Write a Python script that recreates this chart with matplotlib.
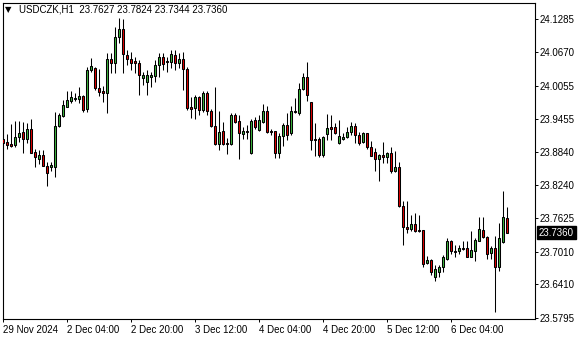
import matplotlib
matplotlib.use('Agg')
import matplotlib.pyplot as plt
import matplotlib.transforms as mtransforms

symbol = 'USDCZK,H1'

# H1 bars, 29 Nov 2024 12:00 .. 6 Dec 2024 19:00 (weekend skipped)
opens = [
    23.9079, 23.9024, 23.8987, 23.8969, 23.9116, 23.9208, 23.9079, 23.9263, 23.8840, 23.8712,
    23.8785, 23.8583, 23.8565, 23.8565, 23.9318, 23.9502, 23.9667, 23.9778, 23.9814, 23.9814,
    23.9870, 23.9631, 24.0347, 24.0384, 24.0017, 23.9961, 23.9925, 24.0550, 24.0476, 24.0954,
    24.1101, 24.0623, 24.0550, 24.0513, 24.0476, 24.0200, 24.0127, 24.0219, 24.0237, 24.0439,
    24.0586, 24.0513, 24.0494, 24.0623, 24.0476, 24.0550, 24.0366, 23.9667, 23.9649, 23.9851,
    23.9612, 23.9925, 23.9594, 23.9318, 23.8987, 23.9226, 23.9006, 23.8987, 23.9520, 23.9410,
    23.9171, 23.9226, 23.8822, 23.9428, 23.9245, 23.9392, 23.9594, 23.9226, 23.9226, 23.8822,
    23.9134, 23.9337, 23.9190, 23.9594, 23.9557, 23.9998, 24.0219, 23.9759, 23.9079, 23.9079,
    23.8785, 23.9171, 23.9300, 23.9300, 23.9006, 23.9079, 23.9116, 23.9208, 23.9318, 23.9153,
    23.9024, 23.9190, 23.8932, 23.8840, 23.8712, 23.8785, 23.8748, 23.8822, 23.8491, 23.8565,
    23.7848, 23.7462, 23.7425, 23.7517, 23.7407, 23.7407, 23.6800, 23.6855, 23.6543, 23.6635,
    23.6727, 23.6874, 23.7204, 23.7021, 23.7021, 23.7076, 23.7076, 23.6910, 23.7021, 23.7204,
    23.7407, 23.7278, 23.6984, 23.7076, 23.6727, 23.7186, 23.7627,
]
highs = [
    23.9300, 23.9171, 23.9355, 23.9410, 23.9410, 23.9392, 23.9373, 23.9447, 23.8895, 23.8877,
    23.8877, 23.8656, 23.8656, 23.9575, 23.9557, 23.9796, 23.9961, 23.9961, 23.9925, 24.0035,
    23.9888, 24.0403, 24.0568, 24.0403, 24.0366, 24.0053, 24.0660, 24.0660, 24.1138, 24.1303,
    24.1285, 24.0715, 24.0678, 24.0586, 24.0531, 24.0311, 24.0347, 24.0311, 24.0531, 24.0660,
    24.0660, 24.0586, 24.0715, 24.0715, 24.0660, 24.0678, 24.0403, 23.9851, 23.9888, 23.9870,
    23.9961, 23.9961, 23.9631, 24.0035, 23.9594, 23.9392, 23.9098, 23.9557, 23.9557, 23.9520,
    23.9300, 23.9337, 23.9447, 23.9484, 23.9520, 23.9722, 23.9686, 23.9263, 23.9226, 23.9190,
    23.9373, 23.9557, 23.9686, 23.9833, 24.0108, 24.0292, 24.0494, 23.9759, 23.9373, 23.9116,
    23.9134, 23.9539, 23.9520, 23.9373, 23.9428, 23.9190, 23.9300, 23.9392, 23.9373, 23.9208,
    23.9208, 23.9190, 23.9042, 23.8914, 23.8804, 23.9024, 23.8840, 23.8932, 23.8859, 23.8656,
    23.7940, 23.7940, 23.7682, 23.7719, 23.7682, 23.7407, 23.6929, 23.6874, 23.6763, 23.6763,
    23.6947, 23.7260, 23.7223, 23.7131, 23.7131, 23.7204, 23.7204, 23.7388, 23.7260, 23.7646,
    23.7646, 23.7296, 23.7113, 23.7296, 23.7535, 23.8123, 23.7824,
]
lows = [
    23.8877, 23.8895, 23.8932, 23.8932, 23.9024, 23.8822, 23.9006, 23.8822, 23.8565, 23.8620,
    23.8583, 23.8215, 23.8491, 23.8381, 23.9300, 23.9484, 23.9667, 23.9741, 23.9778, 23.9741,
    23.9575, 23.9575, 24.0311, 23.9980, 23.9870, 23.9759, 23.9557, 24.0292, 24.0292, 24.0844,
    24.0292, 24.0439, 24.0347, 24.0292, 23.9888, 24.0072, 23.9888, 24.0035, 24.0127, 24.0219,
    24.0347, 24.0311, 24.0384, 24.0347, 24.0384, 23.9980, 23.9612, 23.9465, 23.9447, 23.9520,
    23.9575, 23.9520, 23.9300, 23.8969, 23.8877, 23.8969, 23.8804, 23.8969, 23.9373, 23.8712,
    23.9079, 23.9079, 23.8804, 23.9263, 23.9226, 23.9373, 23.9190, 23.9153, 23.8730, 23.8730,
    23.8951, 23.9061, 23.9153, 23.9557, 23.9520, 23.9980, 23.9778, 23.8877, 23.8767, 23.8748,
    23.8748, 23.9061, 23.9061, 23.9171, 23.8987, 23.9061, 23.9098, 23.9153, 23.9006, 23.8969,
    23.9006, 23.8895, 23.8767, 23.8491, 23.8307, 23.8638, 23.8638, 23.8454, 23.8473, 23.7829,
    23.7131, 23.7351, 23.7388, 23.7370, 23.7370, 23.6727, 23.6782, 23.6580, 23.6469, 23.6543,
    23.6635, 23.6855, 23.6966, 23.6910, 23.6966, 23.7039, 23.6910, 23.6910, 23.6837, 23.7204,
    23.7260, 23.6874, 23.6874, 23.5899, 23.6653, 23.7168, 23.7344,
]
closes = [
    23.9006, 23.8969, 23.8951, 23.9116, 23.9190, 23.9079, 23.9263, 23.8822, 23.8748, 23.8785,
    23.8583, 23.8454, 23.8601, 23.9318, 23.9520, 23.9704, 23.9796, 23.9851, 23.9833, 23.9870,
    23.9612, 24.0347, 24.0421, 24.0017, 23.9943, 23.9925, 24.0550, 24.0476, 24.0954, 24.1101,
    24.0642, 24.0550, 24.0476, 24.0476, 24.0256, 24.0256, 24.0256, 24.0256, 24.0439, 24.0586,
    24.0458, 24.0494, 24.0642, 24.0476, 24.0550, 24.0366, 23.9649, 23.9631, 23.9851, 23.9612,
    23.9925, 23.9594, 23.9318, 23.8987, 23.9208, 23.8987, 23.8987, 23.9520, 23.9392, 23.9190,
    23.9226, 23.9208, 23.9410, 23.9300, 23.9428, 23.9594, 23.9208, 23.9208, 23.8822, 23.9134,
    23.9337, 23.9153, 23.9594, 23.9575, 23.9998, 24.0219, 23.9888, 23.9061, 23.9061, 23.8785,
    23.9116, 23.9281, 23.9263, 23.9190, 23.9134, 23.9116, 23.9208, 23.9318, 23.9153, 23.9006,
    23.9190, 23.8932, 23.8767, 23.8712, 23.8785, 23.8748, 23.8822, 23.8491, 23.8565, 23.7848,
    23.7462, 23.7425, 23.7517, 23.7388, 23.7388, 23.6782, 23.6855, 23.6635, 23.6690, 23.6727,
    23.6910, 23.7204, 23.7021, 23.7002, 23.7076, 23.7057, 23.6910, 23.7039, 23.7223, 23.7425,
    23.7278, 23.6966, 23.7076, 23.6727, 23.7260, 23.7646, 23.7360,
]

xtick_pos = [0, 16, 32, 48, 64, 80, 96, 112]
xtick_labels = ['29 Nov 2024', '2 Dec 04:00', '2 Dec 20:00', '3 Dec 12:00',
                '4 Dec 04:00', '4 Dec 20:00', '5 Dec 12:00', '6 Dec 04:00']
ytick_vals = [24.1285, 24.0670, 24.0055, 23.9455, 23.8840,
              23.8240, 23.7625, 23.7010, 23.6410, 23.5795]

bull = '#3cb43c'
bear = '#e00000'

plt.rcParams['font.family'] = ['Liberation Sans', 'DejaVu Sans']

fig = plt.figure(figsize=(5.8, 3.4), dpi=100)
ax = fig.add_axes([2.5 / 580, 1 - 319 / 340, 532 / 580, 316 / 340])

x = list(range(len(opens)))
colors = [bull if c >= o else bear for o, c in zip(opens, closes)]
bottoms = [min(o, c) for o, c in zip(opens, closes)]
heights = [abs(c - o) for o, c in zip(opens, closes)]

# wicks then bodies
ax.vlines(x, lows, highs, color='black', linewidth=0.75, zorder=2)
ax.bar(x, heights, bottom=bottoms, width=0.5, color=colors,
       edgecolor='black', linewidth=0.75, zorder=3)

ax.set_xlim(-0.2, 132.8)
ax.set_ylim(23.5771, 24.1579)

# axes look like the terminal window
for s in ax.spines.values():
    s.set_color('black')
    s.set_linewidth(0.8)
ax.yaxis.tick_right()
ax.set_yticks(ytick_vals)
ax.set_yticklabels(['%.4f' % v for v in ytick_vals])
ax.set_xticks(xtick_pos)
ax.set_xticklabels(xtick_labels, ha='left')
ax.tick_params(axis='both', direction='out', length=2.5, width=0.7,
               labelsize=7, colors='black')
ax.tick_params(axis='y', pad=1.5)
ax.tick_params(axis='x', pad=1.5)

# header
fig.text(5 / 580, 1 - 10 / 340, '\u25bc', family='DejaVu Sans', fontsize=6,
         va='center', ha='left')
header = '%s  %.4f %.4f %.4f %.4f' % (symbol, opens[-1], highs[-1], lows[-1], closes[-1])
fig.text(19 / 580, 1 - 10 / 340, header, fontsize=7, va='center', ha='left')

# last price tag
trans = mtransforms.blended_transform_factory(ax.transAxes, ax.transData)
ax.annotate('%.4f' % closes[-1], xy=(1, closes[-1]), xycoords=trans,
            xytext=(3.2, 0), textcoords='offset points', fontsize=7,
            color='white', va='center', ha='left', annotation_clip=False,
            bbox=dict(boxstyle='square,pad=0.2', facecolor='black', edgecolor='black'))

fig.savefig('out.png', dpi=100)
